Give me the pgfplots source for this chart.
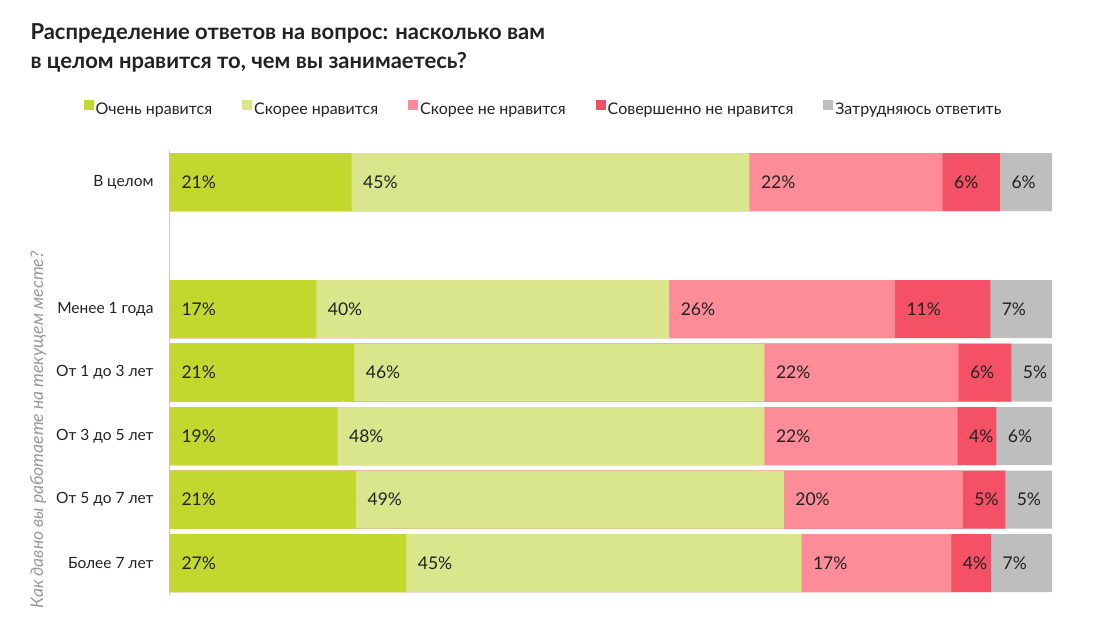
\documentclass[border=0pt]{standalone}
\usepackage{fontspec}
\setmainfont{Lato}
\usepackage{pgfplots}
\usepackage{pgfplotstable}
\pgfplotsset{compat=1.18}

\definecolor{cvery}{HTML}{C3D82E}
\definecolor{cmore}{HTML}{DAE68C}
\definecolor{cless}{HTML}{FB8C98}
\definecolor{cnot}{HTML}{F45066}
\definecolor{cunk}{HTML}{BEBEBE}
\definecolor{ctext}{HTML}{222222}

% segment widths, printed labels in l*
\pgfplotstableread{
y a b c d e la lb lc ld le
0 20.6 45.1 21.9 6.5 5.9 21 45 22 6 6
2 16.6 40.0 25.6 10.8 7.0 17 40 26 11 7
3 20.9 46.5 22.0 6.0 4.6 21 46 22 6 5
4 19.0 48.4 21.9 4.4 6.3 19 48 22 4 6
5 21.1 48.5 20.3 4.8 5.3 21 49 20 5 5
6 26.8 44.8 17.0 4.5 6.9 27 45 17 4 7
}\answers

\pgfplotsset{
  seg/.style={xbar, bar width=58pt, draw=none, fill=#1, forget plot},
  lbl/.style={only marks, mark=*, mark size=0pt, mark options={draw=none, fill=none},
    point meta=explicit symbolic, nodes near coords={\pgfplotspointmeta\%},
    nodes near coords style={anchor=west, xshift=8pt, text=ctext,
      font=\fontsize{17.5}{20}\selectfont}, forget plot},
}

\begin{document}
\begin{tikzpicture}
\begin{axis}[
  scale only axis, width=882pt, height=444.5pt,
  xmin=0, xmax=100, ymin=-0.5, ymax=6.5, y dir=reverse,
  axis x line=none, axis y line=left,
  y axis line style={-, draw=black!20, line width=1pt},
  ytick={0,2,3,4,5,6},
  yticklabels={В целом, Менее 1 года, От 1 до 3 лет, От 3 до 5 лет, От 5 до 7 лет, Более 7 лет},
  ytick style={draw=none}, major tick length=0pt,
  yticklabel style={font=\fontsize{15.5}{18}\selectfont, text=ctext, xshift=-13pt},
  ylabel={Как давно вы работаете на текущем месте?},
  ylabel style={at={(axis description cs:-0.1497,0.3706)}, anchor=center,
    font=\fontsize{17.5}{20}\selectfont\itshape, text=black!40},
  clip=false,
  legend columns=-1,
  legend image code/.code={\fill (0pt,0pt) rectangle (10pt,10pt);},
  legend style={draw=none, fill=none, inner sep=0pt,
    at={(axis description cs:-0.0982,1.0928)}, anchor=west,
    font=\fontsize{16}{19}\selectfont, text=ctext,
    /tikz/every even column/.append style={column sep=28pt}},
]
\addlegendimage{fill=cvery, draw=none}
\addlegendimage{fill=cmore, draw=none}
\addlegendimage{fill=cless, draw=none}
\addlegendimage{fill=cnot, draw=none}
\addlegendimage{fill=cunk, draw=none}
\legend{Очень нравится, Скорее нравится, Скорее не нравится, Совершенно не нравится, Затрудняюсь ответить}

\addplot[seg=cunk] table[x expr=\thisrow{a}+\thisrow{b}+\thisrow{c}+\thisrow{d}+\thisrow{e}, y=y] {\answers};
\addplot[seg=cnot] table[x expr=\thisrow{a}+\thisrow{b}+\thisrow{c}+\thisrow{d}, y=y] {\answers};
\addplot[seg=cless] table[x expr=\thisrow{a}+\thisrow{b}+\thisrow{c}, y=y] {\answers};
\addplot[seg=cmore] table[x expr=\thisrow{a}+\thisrow{b}, y=y] {\answers};
\addplot[seg=cvery] table[x=a, y=y] {\answers};

\addplot[lbl] table[x expr=0, y=y, meta=la] {\answers};
\addplot[lbl] table[x=a, y=y, meta=lb] {\answers};
\addplot[lbl] table[x expr=\thisrow{a}+\thisrow{b}, y=y, meta=lc] {\answers};
\addplot[lbl] table[x expr=\thisrow{a}+\thisrow{b}+\thisrow{c}, y=y, meta=ld] {\answers};
\addplot[lbl] table[x expr=\thisrow{a}+\thisrow{b}+\thisrow{c}+\thisrow{d}, y=y, meta=le] {\answers};
\end{axis}
\node[anchor=base west, font=\fontsize{22}{26}\selectfont\bfseries, text=ctext]
  at (-143pt,554.75pt) {Распределение ответов на вопрос: насколько вам};
\node[anchor=base west, font=\fontsize{22}{26}\selectfont\bfseries, text=ctext]
  at (-143pt,525.75pt) {в целом нравится то, чем вы занимаетесь?};
\path (-170pt,-24.25pt) rectangle (932pt,594.75pt);
\end{tikzpicture}
\end{document}
